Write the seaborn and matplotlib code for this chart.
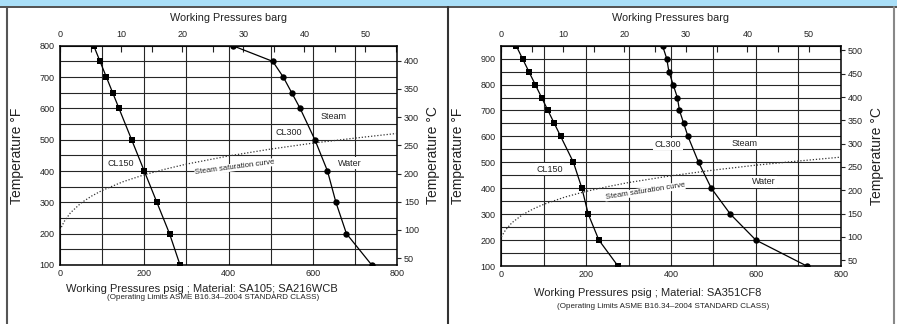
import numpy as np
import pandas as pd
import seaborn as sns
import matplotlib.pyplot as plt
from matplotlib.lines import Line2D
from matplotlib.patches import Rectangle
from matplotlib.ticker import MultipleLocator

sns.set_style('white')
plt.rcParams['font.family'] = ['Liberation Sans', 'DejaVu Sans']

# --- data: left chart, SA105 / SA216WCB (°F vs psig)
temps_a = [100, 200, 300, 400, 500, 600, 650, 700, 750, 800]
cl150_a = [285, 260, 230, 200, 170, 140, 125, 110, 95, 80]
cl300_a = [740, 680, 655, 635, 605, 570, 550, 530, 505, 410]

# --- data: right chart, SA351CF8
temps_b = [100, 200, 300, 400, 500, 600, 650, 700, 750, 800, 850, 900, 950]
cl150_b = [275, 230, 205, 190, 170, 140, 125, 110, 95, 80, 65, 50, 35]
cl300_b = [720, 600, 540, 495, 465, 440, 430, 420, 415, 405, 395, 390, 380]

# steam saturation curve (psig, °F)
sat_psig = [0, 10, 25, 50, 75, 100, 150, 200, 250, 300, 400, 500, 600, 700, 800]
sat_temp = [212, 239, 267, 298, 320, 338, 366, 388, 406, 422, 448, 470, 489, 505, 520]

titles = ['Working Pressures psig ; Material: SA105; SA216WCB',
          'Working Pressures psig ; Material: SA351CF8']
note = '(Operating Limits ASME B16.34\u20132004 STANDARD CLASS)'

fig = plt.figure(figsize=(8.97, 3.24), dpi=100)

# header band and panel frame
fig.patches.append(Rectangle((0, 1 - 6 / 324), 1, 6 / 324, transform=fig.transFigure,
                             facecolor='#a9dff8', edgecolor='none', zorder=0))
fig.add_artist(Line2D([0, 1], [1 - 6.5 / 324] * 2, color='#333333', lw=1.2))
for xp, c in [(6.5, '#555555'), (448, '#333333'), (893.5, '#888888')]:
    fig.add_artist(Line2D([xp / 897] * 2, [0, 1 - 6.5 / 324], color=c, lw=1.5))


def f2c(f):
    return (np.asarray(f) - 32) * 5 / 9


def c2f(c):
    return np.asarray(c) * 9 / 5 + 32


def psig2barg(p):
    return np.asarray(p) / 14.5038


def barg2psig(b):
    return np.asarray(b) * 14.5038


panels = [
    dict(rect=[60 / 897, 1 - 265 / 324, 337 / 897, 219.3 / 324], temps=temps_a,
         cl150=cl150_a, cl300=cl300_a, ytop=800, ctop=400, rot=7.5,
         sat_lbl=(415, 412), lbls={'Steam': (649, 573), 'Water': (687, 425),
                                   'CL300': (544, 524), 'CL150': (145, 425)},
         title_xy=(0.42, -0.108), note_xy=(0.454, -0.148)),
    dict(rect=[501.3 / 897, 1 - 266 / 324, 339.4 / 897, 220.3 / 324], temps=temps_b,
         cl150=cl150_b, cl300=cl300_b, ytop=950, ctop=500, rot=9,
         sat_lbl=(339, 388), lbls={'Steam': (574, 574), 'Water': (618, 425),
                                   'CL300': (393, 570), 'CL150': (114, 474)},
         title_xy=(0.432, -0.121), note_xy=(0.476, -0.182)),
]

for i, p in enumerate(panels):
    ax = fig.add_axes(p['rect'])
    df150 = pd.DataFrame({'psig': p['cl150'], 'temp': p['temps']})
    df300 = pd.DataFrame({'psig': p['cl300'], 'temp': p['temps']})
    sat = pd.DataFrame({'psig': sat_psig, 'temp': sat_temp})

    sns.lineplot(data=sat, x='psig', y='temp', sort=False, ax=ax, color='#333333',
                 lw=0.9, linestyle=(0, (1, 1.5)), zorder=3)
    sns.lineplot(data=df150, x='psig', y='temp', sort=False, ax=ax, color='black',
                 lw=0.9, marker='s', markersize=4.2, markeredgewidth=0, zorder=4)
    sns.lineplot(data=df300, x='psig', y='temp', sort=False, ax=ax, color='black',
                 lw=0.9, marker='o', markersize=4.6, markeredgewidth=0, zorder=4)

    ax.set_xlim(0, 800)
    ax.set_ylim(100, p['ytop'])
    ax.set_xticks(range(0, 801, 200))
    ax.xaxis.set_minor_locator(MultipleLocator(100))
    ax.set_yticks(range(100, p['ytop'] + 1, 100) if p['ytop'] % 100 == 0
                  else range(100, p['ytop'], 100))
    ax.yaxis.set_minor_locator(MultipleLocator(50))
    ax.grid(which='both', color='#262626', lw=0.8)
    ax.set_axisbelow(True)
    ax.tick_params(which='both', length=0, labelsize=6.5, colors='#222222')
    ax.tick_params(axis='x', pad=3)
    ax.tick_params(axis='y', pad=4)
    for s in ax.spines.values():
        s.set_color('black')
        s.set_linewidth(1.1)
    ax.set_xlabel('')
    ax.set_ylabel('Temperature °F', fontsize=10, labelpad=11, color='#222222')

    secx = ax.secondary_xaxis('top', functions=(psig2barg, barg2psig))
    secx.set_xticks(range(0, 51, 10))
    secx.xaxis.set_minor_locator(MultipleLocator(5))
    secx.tick_params(which='both', direction='in', length=4, width=0.8, pad=5,
                     labelsize=6.5, colors='#222222')
    secx.set_xlabel('Working Pressures barg', fontsize=7.8, labelpad=6, color='#222222')
    secx.spines['top'].set_visible(False)

    secy = ax.secondary_yaxis('right', functions=(f2c, c2f))
    secy.set_yticks(range(50, p['ctop'] + 1, 50))
    secy.tick_params(which='both', direction='out', length=3, width=0.8, pad=2,
                     labelsize=6.5, colors='#222222')
    secy.set_ylabel('Temperature °C', fontsize=10, labelpad=5, color='#222222')
    secy.spines['right'].set_visible(False)

    box = dict(facecolor='white', edgecolor='none', pad=1.0)
    for txt, (x, y) in p['lbls'].items():
        ax.text(x, y, txt, fontsize=6.5, ha='center', va='center', color='#222222',
                bbox=box, zorder=5)
    ax.text(p['sat_lbl'][0], p['sat_lbl'][1], 'Steam saturation curve', fontsize=5.6,
            ha='center', va='center', rotation=p['rot'], rotation_mode='anchor',
            color='#222222', bbox=dict(facecolor='white', edgecolor='none', pad=0.3),
            zorder=5)

    ax.text(p['title_xy'][0], p['title_xy'][1], titles[i], transform=ax.transAxes,
            fontsize=8, ha='center', va='center', color='#222222')
    ax.text(p['note_xy'][0], p['note_xy'][1], note, transform=ax.transAxes,
            fontsize=5.8, ha='center', va='center', color='#222222')

fig.savefig('out.png', dpi=100)
